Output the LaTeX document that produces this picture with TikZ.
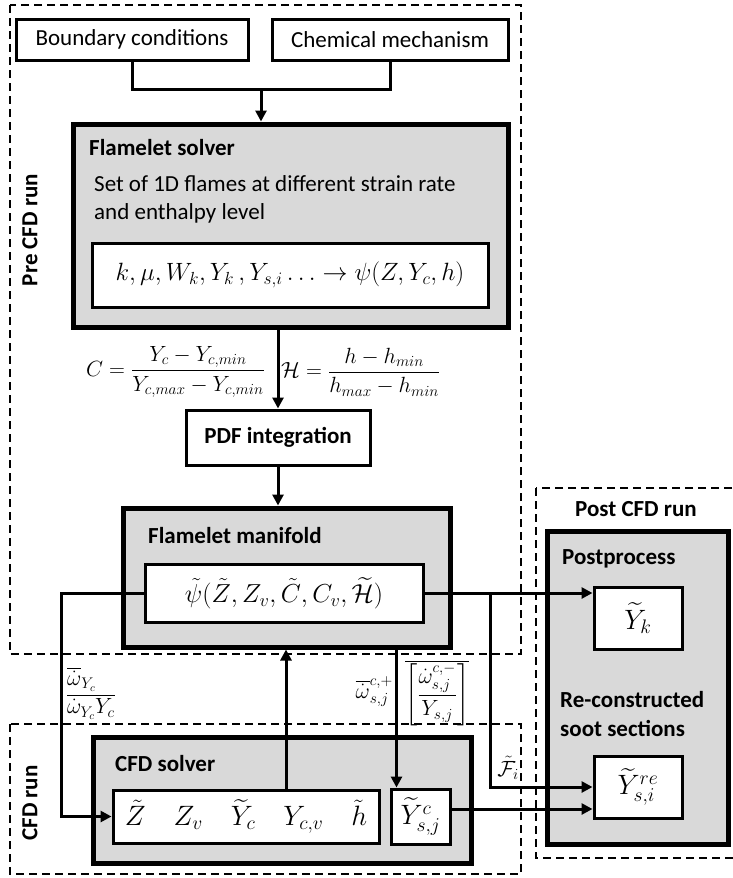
\documentclass[tikz,border=0pt]{standalone}
\usepackage{fix-cm}
\usepackage{amsmath}
\usepackage{fontspec}
\setmainfont{Carlito}
\usetikzlibrary{arrows.meta}
\definecolor{boxgrey}{RGB}{217,217,217}
\tikzset{
	whitebox/.style={draw, line width=3pt, fill=white, inner sep=0pt},
	greybox/.style={draw, line width=5pt, fill=boxgrey, inner sep=0pt},
	runbox/.style={line width=2pt, dash pattern=on 8pt off 5pt},
	link/.style={line width=3pt},
	arr/.style={link, -{Triangle[length=11pt,width=11pt]}},
	title/.style={font=\bfseries\fontsize{23}{29}\selectfont, anchor=west, align=left, inner sep=0pt},
	txt/.style={font=\fontsize{23}{28}\selectfont},
	eq/.style={font=\fontsize{28}{32}\selectfont},
	lbl/.style={font=\fontsize{22}{26}\selectfont, inner sep=1pt}
}

\begin{document}
\begin{tikzpicture}[x=1pt, y=-1pt]
			\useasboundingbox (0,0) rectangle (733,878);
			\draw[runbox] (10,5) rectangle (521,654);
			\draw[runbox] (10,724) rectangle (521,874);
			\draw[runbox] (536,488) rectangle (745,858);
			\node[title, anchor=center, rotate=90] at (30,230) {Pre CFD run};
			\node[title, anchor=center, rotate=90] at (30,803) {CFD run};
			\node[title, anchor=center] at (636,509) {Post CFD run};

			\node[whitebox, txt, minimum width=232pt, minimum height=41pt] (bc) at (132,39.5) {Boundary conditions};
			\node[whitebox, txt, minimum width=236pt, minimum height=41pt] (cm) at (390,39.5) {Chemical mechanism};
			\node[greybox, minimum width=435pt, minimum height=203pt] (solver) at (290.5,225.5) {};
			\node[title] at (89,148) {Flamelet solver};
			\node[txt, anchor=west, align=left, inner sep=0pt] at (94,199) {Set of 1D flames at different strain rate\\and enthalpy level};
			\node[whitebox, eq, font=\fontsize{25}{30}\selectfont, minimum width=396pt, minimum height=64pt] (flames) at (290,275) {$k,\mu,W_k,Y_k\,,Y_{s,i}\ldots\rightarrow\psi(Z,Y_c,h)$};

			\node[whitebox, font=\bfseries\fontsize{23}{27}\selectfont, minimum width=184pt, minimum height=55pt] (pdf) at (278,437.5) {PDF integration};
			\node[lbl, anchor=east] at (266,372) {$C=\dfrac{Y_c-Y_{c,min}}{Y_{c,max}-Y_{c,min}}$};
			\node[lbl, anchor=west] at (280,372) {$\mathcal{H}=\dfrac{h-h_{min}}{h_{max}-h_{min}}$};

			\node[greybox, minimum width=327pt, minimum height=139pt] (manifold) at (286.5,577.5) {};
			\node[title] at (148,536) {Flamelet manifold};
			\node[whitebox, eq, font=\fontsize{26}{30}\selectfont, minimum width=278pt, minimum height=58pt] (psi) at (284,593) {$\tilde{\psi}(\tilde{Z},Z_v,\tilde{C},C_v,\widetilde{\mathcal{H}})$};

			\node[greybox, minimum width=378pt, minimum height=126pt] (cfd) at (282,800) {};
			\node[title] at (115,764) {CFD solver};
			\node[whitebox, eq, minimum width=266pt, minimum height=53pt] (fields) at (246,816.5) {$\tilde{Z}\quad Z_v\quad \widetilde{Y}_c\quad Y_{c,v}\quad \tilde{h}$};
			\node[whitebox, eq, minimum width=59pt, minimum height=55pt] (soot) at (420.5,816.5) {$\widetilde{Y}_{s,j}^{c}$};

			\node[greybox, minimum width=181pt, minimum height=313pt] (post) at (637.5,687.5) {};
			\node[title] at (562,559) {Postprocess};
			\node[whitebox, eq, minimum width=88pt, minimum height=62pt] (Yk) at (638,618) {$\widetilde{Y}_k$};
			\node[title] at (560,714.5) {Re-constructed\\soot sections};
			\node[whitebox, eq, minimum width=88pt, minimum height=62pt] (Yre) at (638,787) {$\widetilde{Y}_{s,i}^{re}$};

			\coordinate (join) at (261,89);
			\coordinate (lft) at (61,593);
			\coordinate (split) at (490,593);
			\draw[link] (bc.south) |- (cm.south |- join) -- (cm.south);
			\draw[arr] (join) -- (join |- solver.north);
			\draw[arr] (solver.south -| pdf.north) -- (pdf.north);
			\draw[arr] (pdf.south) -- (pdf.south |- manifold.north);
			\draw[arr] (psi.west) -- (lft) |- (fields.west);
			\draw[arr] ([xshift=40pt]fields.north) -- ([xshift=40pt]fields.north |- manifold.south);
			\draw[arr] ([xshift=7pt]soot.north west |- manifold.south) -- ([xshift=7pt]soot.north west);
			\draw[arr] (psi.east) -- (psi.east -| Yk.west);
			\draw[arr] (split) |- (Yre.west);
			\draw[arr] ([yshift=7.5pt]soot.east) -- ([yshift=7.5pt]soot.east -| Yre.west);

			\node[lbl, anchor=west] at (66,679) {$\overline{\dot\omega}_{Y_c}$};
			\node[lbl, anchor=west] at (66,707) {$\overline{\dot\omega_{Y_c}Y_c}$};
			\node[lbl, anchor=east] at (394,692) {$\overline{\dot\omega}_{s,j}^{c,+}$};
			\node[lbl, anchor=west] at (404,693) {$\overline{\left[\dfrac{\dot\omega_{s,j}^{c,-}}{Y_{s,j}}\right]}$};
			\node[lbl] at (508,768) {$\tilde{\mathcal{F}}_i$};
\end{tikzpicture}
\end{document}
